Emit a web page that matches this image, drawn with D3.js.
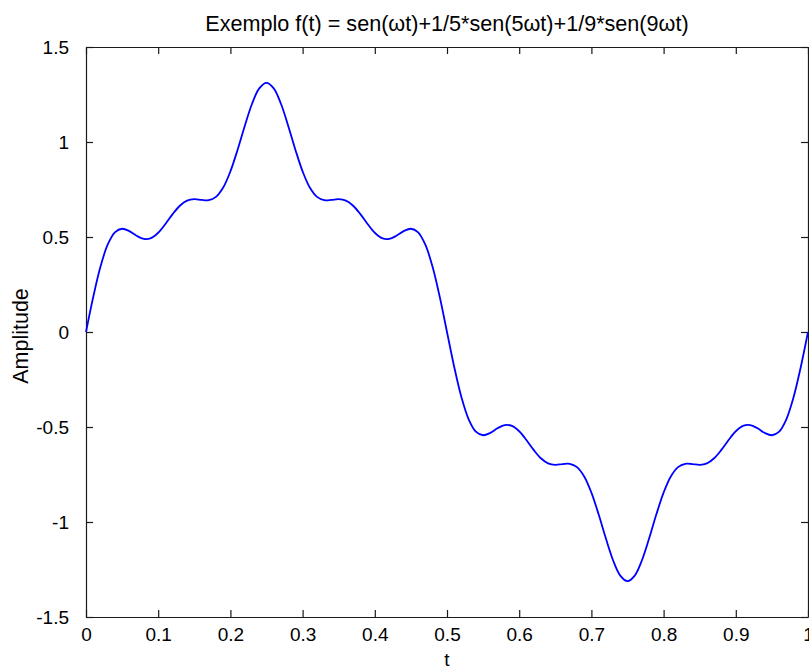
<!DOCTYPE html>
<html>
<head>
<meta charset="utf-8">
<script src="https://cdn.jsdelivr.net/npm/d3@7"></script>
<style>
  html, body { margin: 0; padding: 0; background: #fff; }
  svg { display: block; }
  text { font-family: "Liberation Sans", Arial, Helvetica, sans-serif; fill: #000; }
</style>
</head>
<body>
<svg id="chart" width="809" height="669"></svg>
<script>
// Sample times t (s)
const tValues = [
  0.00, 0.01, 0.02, 0.03, 0.04, 0.05, 0.06, 0.07, 0.08, 0.09,
  0.10, 0.11, 0.12, 0.13, 0.14, 0.15, 0.16, 0.17, 0.18, 0.19,
  0.20, 0.21, 0.22, 0.23, 0.24, 0.25, 0.26, 0.27, 0.28, 0.29,
  0.30, 0.31, 0.32, 0.33, 0.34, 0.35, 0.36, 0.37, 0.38, 0.39,
  0.40, 0.41, 0.42, 0.43, 0.44, 0.45, 0.46, 0.47, 0.48, 0.49,
  0.50, 0.51, 0.52, 0.53, 0.54, 0.55, 0.56, 0.57, 0.58, 0.59,
  0.60, 0.61, 0.62, 0.63, 0.64, 0.65, 0.66, 0.67, 0.68, 0.69,
  0.70, 0.71, 0.72, 0.73, 0.74, 0.75, 0.76, 0.77, 0.78, 0.79,
  0.80, 0.81, 0.82, 0.83, 0.84, 0.85, 0.86, 0.87, 0.88, 0.89,
  0.90, 0.91, 0.92, 0.93, 0.94, 0.95, 0.96, 0.97, 0.98, 0.99,
  1.00
];

// Amplitude f(t) at each sample time
const amplitude = [
  0.0000, 0.1841, 0.3434, 0.4594, 0.5245, 0.5434, 0.5307, 0.5066, 0.4902, 0.4943,
  0.5225, 0.5686, 0.6205, 0.6645, 0.6912, 0.6989, 0.6950, 0.6937, 0.7112, 0.7604,
  0.8454, 0.9596, 1.0859, 1.2012, 1.2821, 1.3111, 1.2821, 1.2012, 1.0859, 0.9596,
  0.8454, 0.7604, 0.7112, 0.6937, 0.6950, 0.6989, 0.6912, 0.6645, 0.6205, 0.5686,
  0.5225, 0.4943, 0.4902, 0.5066, 0.5307, 0.5434, 0.5245, 0.4594, 0.3434, 0.1841,
  0.0000, -0.1841, -0.3434, -0.4594, -0.5245, -0.5434, -0.5307, -0.5066, -0.4902, -0.4943,
  -0.5225, -0.5686, -0.6205, -0.6645, -0.6912, -0.6989, -0.6950, -0.6937, -0.7112, -0.7604,
  -0.8454, -0.9596, -1.0859, -1.2012, -1.2821, -1.3111, -1.2821, -1.2012, -1.0859, -0.9596,
  -0.8454, -0.7604, -0.7112, -0.6937, -0.6950, -0.6989, -0.6912, -0.6645, -0.6205, -0.5686,
  -0.5225, -0.4943, -0.4902, -0.5066, -0.5307, -0.5434, -0.5245, -0.4594, -0.3434, -0.1841,
  0.0000
];

const xTicks = [0, 0.1, 0.2, 0.3, 0.4, 0.5, 0.6, 0.7, 0.8, 0.9, 1];
const yTicks = [-1.5, -1, -0.5, 0, 0.5, 1, 1.5];
const xTickLabels = ["0", "0.1", "0.2", "0.3", "0.4", "0.5", "0.6", "0.7", "0.8", "0.9", "1"];
const yTickLabels = ["-1.5", "-1", "-0.5", "0", "0.5", "1", "1.5"];

const titleText = "Exemplo f(t) = sen(\u03c9t)+1/5*sen(5\u03c9t)+1/9*sen(9\u03c9t)";
const xLabelText = "t";
const yLabelText = "Amplitude";

const points = tValues.map((t, i) => ({ t, v: amplitude[i] }));

const svg = d3.select("#chart");
const plot = { left: 86, right: 808, top: 47, bottom: 617 };

const x = d3.scaleLinear().domain([0, 1]).range([plot.left, plot.right]);
const y = d3.scaleLinear().domain([-1.5, 1.5]).range([plot.bottom, plot.top]);

const axisColor = "#1a1a1a";
const tickLen = 7;

// Bottom axis with labels, ticks pointing inward
const xAxis = d3.axisBottom(x).tickValues(xTicks)
  .tickSizeInner(-tickLen).tickSizeOuter(0).tickPadding(11)
  .tickFormat((d, i) => xTickLabels[i]);
const gx = svg.append("g").attr("transform", `translate(0,${plot.bottom})`).call(xAxis);

// Left axis with labels
const yAxis = d3.axisLeft(y).tickValues(yTicks)
  .tickSizeInner(-tickLen).tickSizeOuter(0).tickPadding(17)
  .tickFormat((d, i) => yTickLabels[i]);
const gy = svg.append("g").attr("transform", `translate(${plot.left},0)`).call(yAxis);

// Top and right axes: ticks only
const gxt = svg.append("g").attr("transform", `translate(0,${plot.top})`)
  .call(d3.axisTop(x).tickValues(xTicks).tickSizeInner(-tickLen).tickSizeOuter(0).tickFormat(""));
const gyr = svg.append("g").attr("transform", `translate(${plot.right},0)`)
  .call(d3.axisRight(y).tickValues(yTicks).tickSizeInner(-tickLen).tickSizeOuter(0).tickFormat(""));

[gx, gy, gxt, gyr].forEach(g => {
  g.selectAll("path.domain").attr("stroke", axisColor).attr("stroke-width", 1.2);
  g.selectAll(".tick line").attr("stroke", axisColor).attr("stroke-width", 1.2);
  g.selectAll(".tick text")
    .attr("font-family", "'Liberation Sans', Arial, Helvetica, sans-serif")
    .attr("font-size", 19).attr("fill", "#000");
});
gx.selectAll(".tick text").attr("dy", "0.71em");

// Signal curve
const line = d3.line()
  .x(d => x(d.t))
  .y(d => y(d.v))
  .curve(d3.curveCatmullRom.alpha(0.5));

svg.append("path")
  .datum(points)
  .attr("fill", "none")
  .attr("stroke", "#0000ff")
  .attr("stroke-width", 1.8)
  .attr("d", line);

// Title and axis labels
svg.append("text")
  .attr("x", (plot.left + plot.right) / 2)
  .attr("y", 31)
  .attr("text-anchor", "middle")
  .attr("font-size", 21.6)
  .text(titleText);

svg.append("text")
  .attr("x", (plot.left + plot.right) / 2)
  .attr("y", 666)
  .attr("text-anchor", "middle")
  .attr("font-size", 19)
  .text(xLabelText);

svg.append("text")
  .attr("transform", `translate(28,${(plot.top + plot.bottom) / 2 + 4}) rotate(-90)`)
  .attr("text-anchor", "middle")
  .attr("font-size", 21.5)
  .text(yLabelText);
</script>
</body>
</html>
